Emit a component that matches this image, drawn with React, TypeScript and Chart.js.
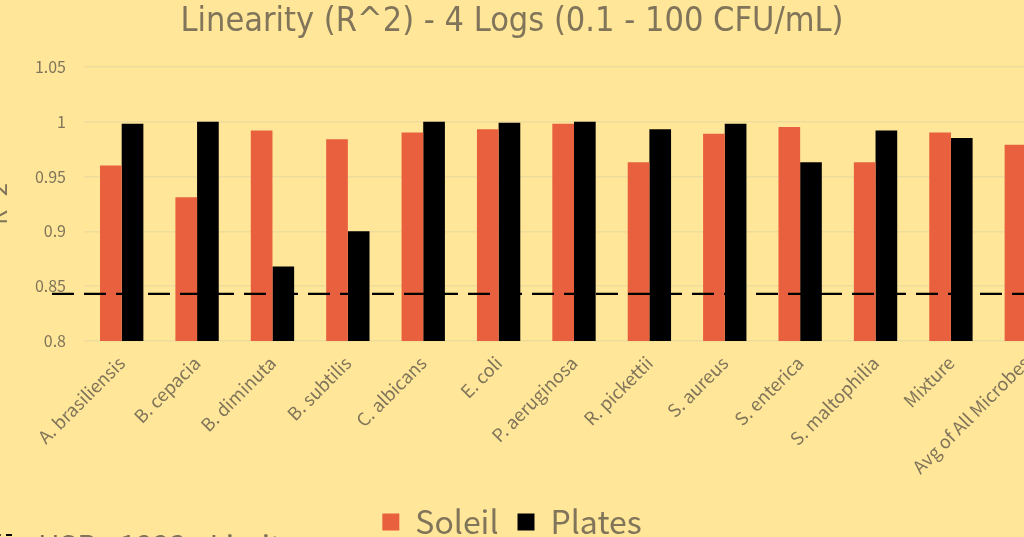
import React, { useEffect, useRef } from "react";
import { Chart, registerables } from "chart.js";

Chart.register(...registerables);

const categories = [
  "A. brasiliensis",
  "B. cepacia",
  "B. diminuta",
  "B. subtilis",
  "C. albicans",
  "E. coli",
  "P. aeruginosa",
  "R. pickettii",
  "S. aureus",
  "S. enterica",
  "S. maltophilia",
  "Mixture",
  "Avg of All Microbes",
];
const soleil = [0.96, 0.931, 0.992, 0.984, 0.99, 0.993, 0.998, 0.963, 0.989, 0.995, 0.963, 0.99, 0.979];
const plates = [0.998, 1.0, 0.868, 0.9, 1.0, 0.999, 1.0, 0.993, 0.998, 0.963, 0.992, 0.985, 0.975];
const uspLimit = 0.843;
const yTicks = [0.8, 0.85, 0.9, 0.95, 1, 1.05];

const textColor = "#80755a";
const labelFont = "'Noto Sans CJK JP', 'Noto Sans', sans-serif";
const titleFont = "'Liberation Sans Narrow', 'DejaVu Sans Condensed', 'Roboto', sans-serif";

// dashed USP <1223> reference line, drawn across the plot at the limit value
const uspLinePlugin = {
  id: "uspLine",
  afterDatasetsDraw(chart: any) {
    const { ctx, chartArea, scales } = chart;
    const y = scales.y.getPixelForValue(uspLimit);
    ctx.save();
    ctx.strokeStyle = "#000";
    ctx.lineWidth = 2.25;
    ctx.setLineDash([22, 10]);
    ctx.beginPath();
    ctx.moveTo(chartArea.left - 32, y);
    ctx.lineTo(chart.width, y);
    ctx.stroke();
    ctx.restore();
  },
};

const App = () => {
  const chartRef = useRef<HTMLCanvasElement | null>(null);
  const chartInstance = useRef<Chart | null>(null);

  useEffect(() => {
    if (chartInstance.current) chartInstance.current.destroy();
    const ctx = chartRef.current?.getContext("2d");
    if (ctx) {
      chartInstance.current = new Chart(ctx, {
        type: "bar",
        data: {
          labels: categories,
          datasets: [
            {
              label: "Soleil",
              data: soleil,
              backgroundColor: "#e9603f",
              categoryPercentage: 0.575,
              barPercentage: 1,
            },
            {
              label: "Plates",
              data: plates,
              backgroundColor: "#000000",
              categoryPercentage: 0.575,
              barPercentage: 1,
            },
          ],
        },
        plugins: [uspLinePlugin],
        options: {
          responsive: true,
          maintainAspectRatio: false,
          animation: false,
          layout: { padding: 0 },
          plugins: {
            title: {
              display: true,
              text: "Linearity (R^2) - 4 Logs (0.1 - 100 CFU/mL)",
              color: textColor,
              font: { family: titleFont, size: 34, weight: "normal" },
              padding: { top: 2, bottom: 24 },
            },
            legend: {
              position: "bottom",
              labels: {
                color: textColor,
                boxWidth: 17,
                boxHeight: 17,
                padding: 19,
                font: { family: labelFont, size: 32 },
              },
            },
            tooltip: { enabled: false },
          },
          scales: {
            x: {
              afterFit: (scale: any) => {
                scale.height = 146;
              },
              grid: { display: false },
              border: { display: false },
              ticks: {
                color: textColor,
                font: { family: labelFont, size: 18 },
                minRotation: 45,
                maxRotation: 45,
                autoSkip: false,
              },
            },
            y: {
              min: 0.8,
              max: 1.05,
              afterBuildTicks: (scale: any) => {
                scale.ticks = yTicks.map((v) => ({ value: v }));
              },
              afterFit: (scale: any) => {
                scale.width = 124;
              },
              grid: { color: "#eedc9c", lineWidth: 1.5, drawTicks: false },
              border: { display: false },
              ticks: {
                color: textColor,
                padding: 18,
                font: { family: labelFont, size: 16 },
                callback: (v: any) => String(Math.round(Number(v) * 100) / 100),
              },
              title: {
                display: true,
                text: "R^2",
                color: textColor,
                font: { family: labelFont, size: 24 },
                padding: { top: 23, bottom: 0 },
              },
            },
          },
        },
      });
    }
    return () => {
      if (chartInstance.current) chartInstance.current.destroy();
    };
  }, []);

  return (
    <div
      style={{
        position: "fixed",
        left: 0,
        top: 0,
        width: 1024,
        height: 537,
        overflow: "hidden",
        background: "#ffe699",
      }}
    >
      <div style={{ position: "absolute", left: -40, top: 0, width: 1104, height: 548 }}>
        <canvas ref={chartRef}></canvas>
      </div>
      <span
        style={{
          position: "absolute",
          left: -28,
          top: 534,
          width: 40,
          borderTop: "2.5px dashed #000",
        }}
      ></span>
      <span
        style={{
          position: "absolute",
          left: 38,
          top: 526,
          fontFamily: labelFont,
          fontSize: 30,
          lineHeight: "36px",
          color: textColor,
          whiteSpace: "nowrap",
        }}
      >
        USP &lt;1223&gt; Limit
      </span>
    </div>
  );
};

export default App;
